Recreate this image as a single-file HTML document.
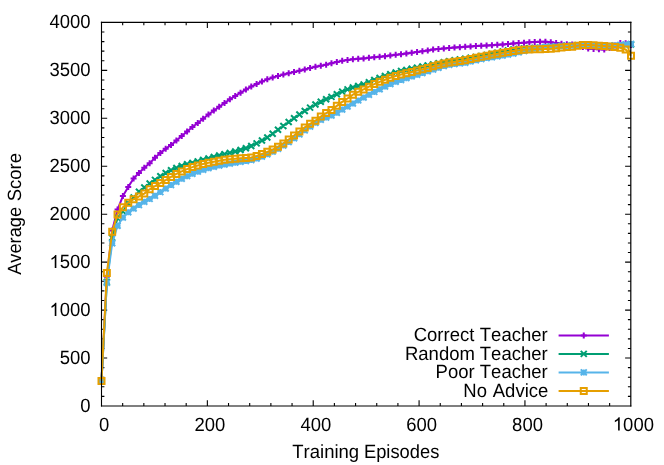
<!DOCTYPE html>
<html><head><meta charset="utf-8"><title>Average Score vs Training Episodes</title>
<style>
html,body{margin:0;padding:0;background:#fff;}
body{width:664px;height:465px;overflow:hidden;font-family:"Liberation Sans",sans-serif;}
svg{display:block;will-change:transform;}
text{text-rendering:geometricPrecision;font-kerning:none;font-family:"Liberation Sans",sans-serif;font-size:18.5px;fill:#000;}
.ln{fill:none;stroke-width:2px;stroke-linejoin:round;stroke-linecap:butt;}
.mk{fill:none;stroke-width:2px;stroke-linecap:butt;stroke-linejoin:miter;}
.ax{stroke:#000;stroke-width:1.1px;fill:none;}
</style></head><body>
<svg width="664" height="465" viewBox="0 0 664 465">
<rect x="0" y="0" width="664" height="465" fill="#ffffff"/>

<path class="ax" d="M101.5 396.38h2.9M630.8 396.38h-2.9M101.5 386.79h2.9M630.8 386.79h-2.9M101.5 377.2h2.9M630.8 377.2h-2.9M101.5 367.61h2.9M630.8 367.61h-2.9M101.5 358.02h5.7M630.8 358.02h-5.7M101.5 348.43h2.9M630.8 348.43h-2.9M101.5 338.85h2.9M630.8 338.85h-2.9M101.5 329.26h2.9M630.8 329.26h-2.9M101.5 319.67h2.9M630.8 319.67h-2.9M101.5 310.08h5.7M630.8 310.08h-5.7M101.5 300.49h2.9M630.8 300.49h-2.9M101.5 290.9h2.9M630.8 290.9h-2.9M101.5 281.31h2.9M630.8 281.31h-2.9M101.5 271.72h2.9M630.8 271.72h-2.9M101.5 262.13h5.7M630.8 262.13h-5.7M101.5 252.54h2.9M630.8 252.54h-2.9M101.5 242.95h2.9M630.8 242.95h-2.9M101.5 233.36h2.9M630.8 233.36h-2.9M101.5 223.77h2.9M630.8 223.77h-2.9M101.5 214.19h5.7M630.8 214.19h-5.7M101.5 204.6h2.9M630.8 204.6h-2.9M101.5 195.01h2.9M630.8 195.01h-2.9M101.5 185.42h2.9M630.8 185.42h-2.9M101.5 175.83h2.9M630.8 175.83h-2.9M101.5 166.24h5.7M630.8 166.24h-5.7M101.5 156.65h2.9M630.8 156.65h-2.9M101.5 147.06h2.9M630.8 147.06h-2.9M101.5 137.47h2.9M630.8 137.47h-2.9M101.5 127.88h2.9M630.8 127.88h-2.9M101.5 118.29h5.7M630.8 118.29h-5.7M101.5 108.7h2.9M630.8 108.7h-2.9M101.5 99.11h2.9M630.8 99.11h-2.9M101.5 89.52h2.9M630.8 89.52h-2.9M101.5 79.94h2.9M630.8 79.94h-2.9M101.5 70.35h5.7M630.8 70.35h-5.7M101.5 60.76h2.9M630.8 60.76h-2.9M101.5 51.17h2.9M630.8 51.17h-2.9M101.5 41.58h2.9M630.8 41.58h-2.9M101.5 31.99h2.9M630.8 31.99h-2.9M122.67 405.97v-2.9M122.67 22.4v2.9M143.84 405.97v-2.9M143.84 22.4v2.9M165.02 405.97v-2.9M165.02 22.4v2.9M186.19 405.97v-2.9M186.19 22.4v2.9M207.36 405.97v-5.7M207.36 22.4v5.7M228.53 405.97v-2.9M228.53 22.4v2.9M249.7 405.97v-2.9M249.7 22.4v2.9M270.88 405.97v-2.9M270.88 22.4v2.9M292.05 405.97v-2.9M292.05 22.4v2.9M313.22 405.97v-5.7M313.22 22.4v5.7M334.39 405.97v-2.9M334.39 22.4v2.9M355.56 405.97v-2.9M355.56 22.4v2.9M376.74 405.97v-2.9M376.74 22.4v2.9M397.91 405.97v-2.9M397.91 22.4v2.9M419.08 405.97v-5.7M419.08 22.4v5.7M440.25 405.97v-2.9M440.25 22.4v2.9M461.42 405.97v-2.9M461.42 22.4v2.9M482.6 405.97v-2.9M482.6 22.4v2.9M503.77 405.97v-2.9M503.77 22.4v2.9M524.94 405.97v-5.7M524.94 22.4v5.7M546.11 405.97v-2.9M546.11 22.4v2.9M567.28 405.97v-2.9M567.28 22.4v2.9M588.46 405.97v-2.9M588.46 22.4v2.9M609.63 405.97v-2.9M609.63 22.4v2.9"/>
<g stroke="#9400d3">
<path class="ln" d="M558.6 335.4H608.9"/>
<path class="mk" d="M580.75 335.4h6M583.75 332.4v6"/>
<polyline class="ln" points="101.5,381.05 106.85,276.83 112.2,230.52 117.55,209.53 122.89,196.01 128.24,186.9 133.59,178.56 138.94,172.9 144.29,167.82 149.64,163.32 154.98,157.71 160.33,152.9 165.68,148.86 171.03,144.93 176.38,140.6 181.73,136.03 187.08,131.44 192.42,127.06 197.77,122.94 203.12,118.74 208.47,114.56 213.82,110.58 219.17,106.84 224.52,102.98 229.86,99.33 235.21,95.96 240.56,92.75 245.91,89.59 251.26,86.6 256.61,83.99 261.95,81.55 267.3,79.35 272.65,77.48 278,75.97 283.35,74.6 288.7,73.28 294.05,72.05 299.39,70.8 304.74,69.42 310.09,67.98 315.44,66.75 320.79,65.74 326.14,64.66 331.48,63.2 336.83,61.92 342.18,60.87 347.53,59.95 352.88,59.33 358.23,58.87 363.58,58.4 368.92,57.86 374.27,57.3 379.62,56.75 384.97,56.21 390.32,55.58 395.67,54.87 401.02,54.15 406.36,53.42 411.71,52.7 417.06,52.09 422.41,51.26 427.76,50.41 433.11,49.57 438.45,48.91 443.8,48.41 449.15,47.98 454.5,47.55 459.85,47.15 465.2,46.83 470.55,46.41 475.89,46.05 481.24,45.74 486.59,45.46 491.94,45.17 497.29,44.86 502.64,44.43 507.98,43.94 513.33,43.4 518.68,42.96 524.03,42.69 529.38,42.32 534.73,41.97 540.08,41.7 545.42,41.7 550.77,42.34 556.12,43.03 561.47,43.78 566.82,44.21 572.17,44.54 577.52,45.52 582.86,46.97 588.21,48.45 593.56,49.11 598.91,49.32 604.26,49.42 609.61,47.99 614.95,45.59 620.3,43.12 625.65,43.15 631,45.01"/>
<path class="mk" d="M98.5 381.05h6M101.5 378.05v6M103.85 276.83h6M106.85 273.83v6M109.2 230.52h6M112.2 227.52v6M114.55 209.53h6M117.55 206.53v6M119.89 196.01h6M122.89 193.01v6M125.24 186.9h6M128.24 183.9v6M130.59 178.56h6M133.59 175.56v6M135.94 172.9h6M138.94 169.9v6M141.29 167.82h6M144.29 164.82v6M146.64 163.32h6M149.64 160.32v6M151.98 157.71h6M154.98 154.71v6M157.33 152.9h6M160.33 149.9v6M162.68 148.86h6M165.68 145.86v6M168.03 144.93h6M171.03 141.93v6M173.38 140.6h6M176.38 137.6v6M178.73 136.03h6M181.73 133.03v6M184.08 131.44h6M187.08 128.44v6M189.42 127.06h6M192.42 124.06v6M194.77 122.94h6M197.77 119.94v6M200.12 118.74h6M203.12 115.74v6M205.47 114.56h6M208.47 111.56v6M210.82 110.58h6M213.82 107.58v6M216.17 106.84h6M219.17 103.84v6M221.52 102.98h6M224.52 99.98v6M226.86 99.33h6M229.86 96.33v6M232.21 95.96h6M235.21 92.96v6M237.56 92.75h6M240.56 89.75v6M242.91 89.59h6M245.91 86.59v6M248.26 86.6h6M251.26 83.6v6M253.61 83.99h6M256.61 80.99v6M258.95 81.55h6M261.95 78.55v6M264.3 79.35h6M267.3 76.35v6M269.65 77.48h6M272.65 74.48v6M275 75.97h6M278 72.97v6M280.35 74.6h6M283.35 71.6v6M285.7 73.28h6M288.7 70.28v6M291.05 72.05h6M294.05 69.05v6M296.39 70.8h6M299.39 67.8v6M301.74 69.42h6M304.74 66.42v6M307.09 67.98h6M310.09 64.98v6M312.44 66.75h6M315.44 63.75v6M317.79 65.74h6M320.79 62.74v6M323.14 64.66h6M326.14 61.66v6M328.48 63.2h6M331.48 60.2v6M333.83 61.92h6M336.83 58.92v6M339.18 60.87h6M342.18 57.87v6M344.53 59.95h6M347.53 56.95v6M349.88 59.33h6M352.88 56.33v6M355.23 58.87h6M358.23 55.87v6M360.58 58.4h6M363.58 55.4v6M365.92 57.86h6M368.92 54.86v6M371.27 57.3h6M374.27 54.3v6M376.62 56.75h6M379.62 53.75v6M381.97 56.21h6M384.97 53.21v6M387.32 55.58h6M390.32 52.58v6M392.67 54.87h6M395.67 51.87v6M398.02 54.15h6M401.02 51.15v6M403.36 53.42h6M406.36 50.42v6M408.71 52.7h6M411.71 49.7v6M414.06 52.09h6M417.06 49.09v6M419.41 51.26h6M422.41 48.26v6M424.76 50.41h6M427.76 47.41v6M430.11 49.57h6M433.11 46.57v6M435.45 48.91h6M438.45 45.91v6M440.8 48.41h6M443.8 45.41v6M446.15 47.98h6M449.15 44.98v6M451.5 47.55h6M454.5 44.55v6M456.85 47.15h6M459.85 44.15v6M462.2 46.83h6M465.2 43.83v6M467.55 46.41h6M470.55 43.41v6M472.89 46.05h6M475.89 43.05v6M478.24 45.74h6M481.24 42.74v6M483.59 45.46h6M486.59 42.46v6M488.94 45.17h6M491.94 42.17v6M494.29 44.86h6M497.29 41.86v6M499.64 44.43h6M502.64 41.43v6M504.98 43.94h6M507.98 40.94v6M510.33 43.4h6M513.33 40.4v6M515.68 42.96h6M518.68 39.96v6M521.03 42.69h6M524.03 39.69v6M526.38 42.32h6M529.38 39.32v6M531.73 41.97h6M534.73 38.97v6M537.08 41.7h6M540.08 38.7v6M542.42 41.7h6M545.42 38.7v6M547.77 42.34h6M550.77 39.34v6M553.12 43.03h6M556.12 40.03v6M558.47 43.78h6M561.47 40.78v6M563.82 44.21h6M566.82 41.21v6M569.17 44.54h6M572.17 41.54v6M574.52 45.52h6M577.52 42.52v6M579.86 46.97h6M582.86 43.97v6M585.21 48.45h6M588.21 45.45v6M590.56 49.11h6M593.56 46.11v6M595.91 49.32h6M598.91 46.32v6M601.26 49.42h6M604.26 46.42v6M606.61 47.99h6M609.61 44.99v6M611.95 45.59h6M614.95 42.59v6M617.3 43.12h6M620.3 40.12v6M622.65 43.15h6M625.65 40.15v6M628 45.01h6M631 42.01v6"/>
</g>
<g stroke="#009e73">
<path class="ln" d="M558.6 353.9H608.9"/>
<path class="mk" d="M580.75 350.9l6 6M580.75 356.9l6 -6"/>
<polyline class="ln" points="101.5,381.05 106.85,281.91 112.2,237.71 117.55,218.06 122.89,211.35 128.24,203.22 133.59,197.48 138.94,191.73 144.29,187.56 149.64,183.5 154.98,179.9 160.33,176.26 165.68,173 171.03,170.32 176.38,167.93 181.73,165.95 187.08,164.32 192.42,162.85 197.77,161.36 203.12,159.89 208.47,158.46 213.82,157 219.17,155.54 224.52,154.13 229.86,152.85 235.21,151.53 240.56,150.01 245.91,148.19 251.26,146.01 256.61,143.39 261.95,140.51 267.3,137.44 272.65,133.75 278,129.81 283.35,125.98 288.7,122.08 294.05,118.23 299.39,114.54 304.74,110.94 310.09,107.61 315.44,104.57 320.79,101.74 326.14,99.19 331.48,96.85 336.83,94.18 342.18,91.65 347.53,89.4 352.88,87.51 358.23,85.96 363.58,84.52 368.92,82.28 374.27,79.98 379.62,77.89 384.97,75.96 390.32,74.15 395.67,72.46 401.02,71.07 406.36,69.92 411.71,68.81 417.06,67.66 422.41,66.46 427.76,65.39 433.11,64.38 438.45,63.32 443.8,62.23 449.15,61.16 454.5,60.25 459.85,59.45 465.2,58.64 470.55,57.77 475.89,56.85 481.24,55.95 486.59,54.97 491.94,53.91 497.29,52.68 502.64,51.46 507.98,50.36 513.33,49.48 518.68,48.87 524.03,48.5 529.38,48.21 534.73,47.94 540.08,47.65 545.42,47.28 550.77,46.81 556.12,46.43 561.47,46.05 566.82,45.72 572.17,45.46 577.52,45.33 582.86,45.38 588.21,45.58 593.56,45.84 598.91,46.05 604.26,46.13 609.61,46.04 614.95,45.82 620.3,45.49 625.65,45.05 631,44.53"/>
<path class="mk" d="M98.5 378.05l6 6M98.5 384.05l6 -6M103.85 278.91l6 6M103.85 284.91l6 -6M109.2 234.71l6 6M109.2 240.71l6 -6M114.55 215.06l6 6M114.55 221.06l6 -6M119.89 208.35l6 6M119.89 214.35l6 -6M125.24 200.22l6 6M125.24 206.22l6 -6M130.59 194.48l6 6M130.59 200.48l6 -6M135.94 188.73l6 6M135.94 194.73l6 -6M141.29 184.56l6 6M141.29 190.56l6 -6M146.64 180.5l6 6M146.64 186.5l6 -6M151.98 176.9l6 6M151.98 182.9l6 -6M157.33 173.26l6 6M157.33 179.26l6 -6M162.68 170l6 6M162.68 176l6 -6M168.03 167.32l6 6M168.03 173.32l6 -6M173.38 164.93l6 6M173.38 170.93l6 -6M178.73 162.95l6 6M178.73 168.95l6 -6M184.08 161.32l6 6M184.08 167.32l6 -6M189.42 159.85l6 6M189.42 165.85l6 -6M194.77 158.36l6 6M194.77 164.36l6 -6M200.12 156.89l6 6M200.12 162.89l6 -6M205.47 155.46l6 6M205.47 161.46l6 -6M210.82 154l6 6M210.82 160l6 -6M216.17 152.54l6 6M216.17 158.54l6 -6M221.52 151.13l6 6M221.52 157.13l6 -6M226.86 149.85l6 6M226.86 155.85l6 -6M232.21 148.53l6 6M232.21 154.53l6 -6M237.56 147.01l6 6M237.56 153.01l6 -6M242.91 145.19l6 6M242.91 151.19l6 -6M248.26 143.01l6 6M248.26 149.01l6 -6M253.61 140.39l6 6M253.61 146.39l6 -6M258.95 137.51l6 6M258.95 143.51l6 -6M264.3 134.44l6 6M264.3 140.44l6 -6M269.65 130.75l6 6M269.65 136.75l6 -6M275 126.81l6 6M275 132.81l6 -6M280.35 122.98l6 6M280.35 128.98l6 -6M285.7 119.08l6 6M285.7 125.08l6 -6M291.05 115.23l6 6M291.05 121.23l6 -6M296.39 111.54l6 6M296.39 117.54l6 -6M301.74 107.94l6 6M301.74 113.94l6 -6M307.09 104.61l6 6M307.09 110.61l6 -6M312.44 101.57l6 6M312.44 107.57l6 -6M317.79 98.74l6 6M317.79 104.74l6 -6M323.14 96.19l6 6M323.14 102.19l6 -6M328.48 93.85l6 6M328.48 99.85l6 -6M333.83 91.18l6 6M333.83 97.18l6 -6M339.18 88.65l6 6M339.18 94.65l6 -6M344.53 86.4l6 6M344.53 92.4l6 -6M349.88 84.51l6 6M349.88 90.51l6 -6M355.23 82.96l6 6M355.23 88.96l6 -6M360.58 81.52l6 6M360.58 87.52l6 -6M365.92 79.28l6 6M365.92 85.28l6 -6M371.27 76.98l6 6M371.27 82.98l6 -6M376.62 74.89l6 6M376.62 80.89l6 -6M381.97 72.96l6 6M381.97 78.96l6 -6M387.32 71.15l6 6M387.32 77.15l6 -6M392.67 69.46l6 6M392.67 75.46l6 -6M398.02 68.07l6 6M398.02 74.07l6 -6M403.36 66.92l6 6M403.36 72.92l6 -6M408.71 65.81l6 6M408.71 71.81l6 -6M414.06 64.66l6 6M414.06 70.66l6 -6M419.41 63.46l6 6M419.41 69.46l6 -6M424.76 62.39l6 6M424.76 68.39l6 -6M430.11 61.38l6 6M430.11 67.38l6 -6M435.45 60.32l6 6M435.45 66.32l6 -6M440.8 59.23l6 6M440.8 65.23l6 -6M446.15 58.16l6 6M446.15 64.16l6 -6M451.5 57.25l6 6M451.5 63.25l6 -6M456.85 56.45l6 6M456.85 62.45l6 -6M462.2 55.64l6 6M462.2 61.64l6 -6M467.55 54.77l6 6M467.55 60.77l6 -6M472.89 53.85l6 6M472.89 59.85l6 -6M478.24 52.95l6 6M478.24 58.95l6 -6M483.59 51.97l6 6M483.59 57.97l6 -6M488.94 50.91l6 6M488.94 56.91l6 -6M494.29 49.68l6 6M494.29 55.68l6 -6M499.64 48.46l6 6M499.64 54.46l6 -6M504.98 47.36l6 6M504.98 53.36l6 -6M510.33 46.48l6 6M510.33 52.48l6 -6M515.68 45.87l6 6M515.68 51.87l6 -6M521.03 45.5l6 6M521.03 51.5l6 -6M526.38 45.21l6 6M526.38 51.21l6 -6M531.73 44.94l6 6M531.73 50.94l6 -6M537.08 44.65l6 6M537.08 50.65l6 -6M542.42 44.28l6 6M542.42 50.28l6 -6M547.77 43.81l6 6M547.77 49.81l6 -6M553.12 43.43l6 6M553.12 49.43l6 -6M558.47 43.05l6 6M558.47 49.05l6 -6M563.82 42.72l6 6M563.82 48.72l6 -6M569.17 42.46l6 6M569.17 48.46l6 -6M574.52 42.33l6 6M574.52 48.33l6 -6M579.86 42.38l6 6M579.86 48.38l6 -6M585.21 42.58l6 6M585.21 48.58l6 -6M590.56 42.84l6 6M590.56 48.84l6 -6M595.91 43.05l6 6M595.91 49.05l6 -6M601.26 43.13l6 6M601.26 49.13l6 -6M606.61 43.04l6 6M606.61 49.04l6 -6M611.95 42.82l6 6M611.95 48.82l6 -6M617.3 42.49l6 6M617.3 48.49l6 -6M622.65 42.05l6 6M622.65 48.05l6 -6M628 41.53l6 6M628 47.53l6 -6"/>
</g>
<g stroke="#56b4e9">
<path class="ln" d="M558.6 372.4H608.9"/>
<path class="mk" d="M580.75 372.4h6M583.75 369.4v6M580.75 369.4l6 6M580.75 375.4l6 -6"/>
<polyline class="ln" points="101.5,381.05 106.85,282.87 112.2,243.27 117.55,225.73 122.89,217.58 128.24,212.21 133.59,208.57 138.94,204.93 144.29,201.76 149.64,198.9 154.98,195.83 160.33,192.12 165.68,188.49 171.03,185.01 176.38,181.75 181.73,178.83 187.08,176.16 192.42,173.75 197.77,171.65 203.12,169.75 208.47,168.13 213.82,166.76 219.17,165.56 224.52,164.46 229.86,163.46 235.21,162.65 240.56,161.83 245.91,161.07 251.26,160.12 256.61,158.51 261.95,156.45 267.3,154.2 272.65,151.64 278,148.76 283.35,145.58 288.7,141.97 294.05,138.19 299.39,134.35 304.74,130.37 310.09,126.49 315.44,122.87 320.79,119.78 326.14,117.42 331.48,115.54 336.83,112.68 342.18,109.58 347.53,106.53 352.88,103.42 358.23,100.38 363.58,97.54 368.92,94.67 374.27,91.9 379.62,89.24 384.97,86.48 390.32,83.93 395.67,81.81 401.02,79.93 406.36,78.13 411.71,76.39 417.06,74.67 422.41,72.92 427.76,71.2 433.11,69.54 438.45,67.8 443.8,66.03 449.15,64.8 454.5,64.03 459.85,63.34 465.2,62.67 470.55,61.39 475.89,60.2 481.24,59.1 486.59,58.12 491.94,57.24 497.29,56.37 502.64,55.49 507.98,54.55 513.33,53.53 518.68,52.36 524.03,51.04 529.38,49.77 534.73,48.54 540.08,47.65 545.42,46.99 550.77,46.69 556.12,46.48 561.47,46.24 566.82,46 572.17,45.7 577.52,45.49 582.86,45.53 588.21,45.65 593.56,45.79 598.91,45.91 604.26,45.97 609.61,45.82 614.95,45.44 620.3,45.02 625.65,44.57 631,44.05"/>
<path class="mk" d="M98.5 381.05h6M101.5 378.05v6M98.5 378.05l6 6M98.5 384.05l6 -6M103.85 282.87h6M106.85 279.87v6M103.85 279.87l6 6M103.85 285.87l6 -6M109.2 243.27h6M112.2 240.27v6M109.2 240.27l6 6M109.2 246.27l6 -6M114.55 225.73h6M117.55 222.73v6M114.55 222.73l6 6M114.55 228.73l6 -6M119.89 217.58h6M122.89 214.58v6M119.89 214.58l6 6M119.89 220.58l6 -6M125.24 212.21h6M128.24 209.21v6M125.24 209.21l6 6M125.24 215.21l6 -6M130.59 208.57h6M133.59 205.57v6M130.59 205.57l6 6M130.59 211.57l6 -6M135.94 204.93h6M138.94 201.93v6M135.94 201.93l6 6M135.94 207.93l6 -6M141.29 201.76h6M144.29 198.76v6M141.29 198.76l6 6M141.29 204.76l6 -6M146.64 198.9h6M149.64 195.9v6M146.64 195.9l6 6M146.64 201.9l6 -6M151.98 195.83h6M154.98 192.83v6M151.98 192.83l6 6M151.98 198.83l6 -6M157.33 192.12h6M160.33 189.12v6M157.33 189.12l6 6M157.33 195.12l6 -6M162.68 188.49h6M165.68 185.49v6M162.68 185.49l6 6M162.68 191.49l6 -6M168.03 185.01h6M171.03 182.01v6M168.03 182.01l6 6M168.03 188.01l6 -6M173.38 181.75h6M176.38 178.75v6M173.38 178.75l6 6M173.38 184.75l6 -6M178.73 178.83h6M181.73 175.83v6M178.73 175.83l6 6M178.73 181.83l6 -6M184.08 176.16h6M187.08 173.16v6M184.08 173.16l6 6M184.08 179.16l6 -6M189.42 173.75h6M192.42 170.75v6M189.42 170.75l6 6M189.42 176.75l6 -6M194.77 171.65h6M197.77 168.65v6M194.77 168.65l6 6M194.77 174.65l6 -6M200.12 169.75h6M203.12 166.75v6M200.12 166.75l6 6M200.12 172.75l6 -6M205.47 168.13h6M208.47 165.13v6M205.47 165.13l6 6M205.47 171.13l6 -6M210.82 166.76h6M213.82 163.76v6M210.82 163.76l6 6M210.82 169.76l6 -6M216.17 165.56h6M219.17 162.56v6M216.17 162.56l6 6M216.17 168.56l6 -6M221.52 164.46h6M224.52 161.46v6M221.52 161.46l6 6M221.52 167.46l6 -6M226.86 163.46h6M229.86 160.46v6M226.86 160.46l6 6M226.86 166.46l6 -6M232.21 162.65h6M235.21 159.65v6M232.21 159.65l6 6M232.21 165.65l6 -6M237.56 161.83h6M240.56 158.83v6M237.56 158.83l6 6M237.56 164.83l6 -6M242.91 161.07h6M245.91 158.07v6M242.91 158.07l6 6M242.91 164.07l6 -6M248.26 160.12h6M251.26 157.12v6M248.26 157.12l6 6M248.26 163.12l6 -6M253.61 158.51h6M256.61 155.51v6M253.61 155.51l6 6M253.61 161.51l6 -6M258.95 156.45h6M261.95 153.45v6M258.95 153.45l6 6M258.95 159.45l6 -6M264.3 154.2h6M267.3 151.2v6M264.3 151.2l6 6M264.3 157.2l6 -6M269.65 151.64h6M272.65 148.64v6M269.65 148.64l6 6M269.65 154.64l6 -6M275 148.76h6M278 145.76v6M275 145.76l6 6M275 151.76l6 -6M280.35 145.58h6M283.35 142.58v6M280.35 142.58l6 6M280.35 148.58l6 -6M285.7 141.97h6M288.7 138.97v6M285.7 138.97l6 6M285.7 144.97l6 -6M291.05 138.19h6M294.05 135.19v6M291.05 135.19l6 6M291.05 141.19l6 -6M296.39 134.35h6M299.39 131.35v6M296.39 131.35l6 6M296.39 137.35l6 -6M301.74 130.37h6M304.74 127.37v6M301.74 127.37l6 6M301.74 133.37l6 -6M307.09 126.49h6M310.09 123.49v6M307.09 123.49l6 6M307.09 129.49l6 -6M312.44 122.87h6M315.44 119.87v6M312.44 119.87l6 6M312.44 125.87l6 -6M317.79 119.78h6M320.79 116.78v6M317.79 116.78l6 6M317.79 122.78l6 -6M323.14 117.42h6M326.14 114.42v6M323.14 114.42l6 6M323.14 120.42l6 -6M328.48 115.54h6M331.48 112.54v6M328.48 112.54l6 6M328.48 118.54l6 -6M333.83 112.68h6M336.83 109.68v6M333.83 109.68l6 6M333.83 115.68l6 -6M339.18 109.58h6M342.18 106.58v6M339.18 106.58l6 6M339.18 112.58l6 -6M344.53 106.53h6M347.53 103.53v6M344.53 103.53l6 6M344.53 109.53l6 -6M349.88 103.42h6M352.88 100.42v6M349.88 100.42l6 6M349.88 106.42l6 -6M355.23 100.38h6M358.23 97.38v6M355.23 97.38l6 6M355.23 103.38l6 -6M360.58 97.54h6M363.58 94.54v6M360.58 94.54l6 6M360.58 100.54l6 -6M365.92 94.67h6M368.92 91.67v6M365.92 91.67l6 6M365.92 97.67l6 -6M371.27 91.9h6M374.27 88.9v6M371.27 88.9l6 6M371.27 94.9l6 -6M376.62 89.24h6M379.62 86.24v6M376.62 86.24l6 6M376.62 92.24l6 -6M381.97 86.48h6M384.97 83.48v6M381.97 83.48l6 6M381.97 89.48l6 -6M387.32 83.93h6M390.32 80.93v6M387.32 80.93l6 6M387.32 86.93l6 -6M392.67 81.81h6M395.67 78.81v6M392.67 78.81l6 6M392.67 84.81l6 -6M398.02 79.93h6M401.02 76.93v6M398.02 76.93l6 6M398.02 82.93l6 -6M403.36 78.13h6M406.36 75.13v6M403.36 75.13l6 6M403.36 81.13l6 -6M408.71 76.39h6M411.71 73.39v6M408.71 73.39l6 6M408.71 79.39l6 -6M414.06 74.67h6M417.06 71.67v6M414.06 71.67l6 6M414.06 77.67l6 -6M419.41 72.92h6M422.41 69.92v6M419.41 69.92l6 6M419.41 75.92l6 -6M424.76 71.2h6M427.76 68.2v6M424.76 68.2l6 6M424.76 74.2l6 -6M430.11 69.54h6M433.11 66.54v6M430.11 66.54l6 6M430.11 72.54l6 -6M435.45 67.8h6M438.45 64.8v6M435.45 64.8l6 6M435.45 70.8l6 -6M440.8 66.03h6M443.8 63.03v6M440.8 63.03l6 6M440.8 69.03l6 -6M446.15 64.8h6M449.15 61.8v6M446.15 61.8l6 6M446.15 67.8l6 -6M451.5 64.03h6M454.5 61.03v6M451.5 61.03l6 6M451.5 67.03l6 -6M456.85 63.34h6M459.85 60.34v6M456.85 60.34l6 6M456.85 66.34l6 -6M462.2 62.67h6M465.2 59.67v6M462.2 59.67l6 6M462.2 65.67l6 -6M467.55 61.39h6M470.55 58.39v6M467.55 58.39l6 6M467.55 64.39l6 -6M472.89 60.2h6M475.89 57.2v6M472.89 57.2l6 6M472.89 63.2l6 -6M478.24 59.1h6M481.24 56.1v6M478.24 56.1l6 6M478.24 62.1l6 -6M483.59 58.12h6M486.59 55.12v6M483.59 55.12l6 6M483.59 61.12l6 -6M488.94 57.24h6M491.94 54.24v6M488.94 54.24l6 6M488.94 60.24l6 -6M494.29 56.37h6M497.29 53.37v6M494.29 53.37l6 6M494.29 59.37l6 -6M499.64 55.49h6M502.64 52.49v6M499.64 52.49l6 6M499.64 58.49l6 -6M504.98 54.55h6M507.98 51.55v6M504.98 51.55l6 6M504.98 57.55l6 -6M510.33 53.53h6M513.33 50.53v6M510.33 50.53l6 6M510.33 56.53l6 -6M515.68 52.36h6M518.68 49.36v6M515.68 49.36l6 6M515.68 55.36l6 -6M521.03 51.04h6M524.03 48.04v6M521.03 48.04l6 6M521.03 54.04l6 -6M526.38 49.77h6M529.38 46.77v6M526.38 46.77l6 6M526.38 52.77l6 -6M531.73 48.54h6M534.73 45.54v6M531.73 45.54l6 6M531.73 51.54l6 -6M537.08 47.65h6M540.08 44.65v6M537.08 44.65l6 6M537.08 50.65l6 -6M542.42 46.99h6M545.42 43.99v6M542.42 43.99l6 6M542.42 49.99l6 -6M547.77 46.69h6M550.77 43.69v6M547.77 43.69l6 6M547.77 49.69l6 -6M553.12 46.48h6M556.12 43.48v6M553.12 43.48l6 6M553.12 49.48l6 -6M558.47 46.24h6M561.47 43.24v6M558.47 43.24l6 6M558.47 49.24l6 -6M563.82 46h6M566.82 43v6M563.82 43l6 6M563.82 49l6 -6M569.17 45.7h6M572.17 42.7v6M569.17 42.7l6 6M569.17 48.7l6 -6M574.52 45.49h6M577.52 42.49v6M574.52 42.49l6 6M574.52 48.49l6 -6M579.86 45.53h6M582.86 42.53v6M579.86 42.53l6 6M579.86 48.53l6 -6M585.21 45.65h6M588.21 42.65v6M585.21 42.65l6 6M585.21 48.65l6 -6M590.56 45.79h6M593.56 42.79v6M590.56 42.79l6 6M590.56 48.79l6 -6M595.91 45.91h6M598.91 42.91v6M595.91 42.91l6 6M595.91 48.91l6 -6M601.26 45.97h6M604.26 42.97v6M601.26 42.97l6 6M601.26 48.97l6 -6M606.61 45.82h6M609.61 42.82v6M606.61 42.82l6 6M606.61 48.82l6 -6M611.95 45.44h6M614.95 42.44v6M611.95 42.44l6 6M611.95 48.44l6 -6M617.3 45.02h6M620.3 42.02v6M617.3 42.02l6 6M617.3 48.02l6 -6M622.65 44.57h6M625.65 41.57v6M622.65 41.57l6 6M622.65 47.57l6 -6M628 44.05h6M631 41.05v6M628 41.05l6 6M628 47.05l6 -6"/>
</g>
<g stroke="#e69f00">
<path class="ln" d="M558.6 390.9H608.9"/>
<path class="mk" d="M580.75 387.9h6v6h-6z"/>
<polyline class="ln" points="101.5,381.05 106.85,273.09 112.2,231.67 117.55,214.42 122.89,207.23 128.24,202.72 133.59,199.18 138.94,196.49 144.29,193.61 149.64,189.28 154.98,186.09 160.33,183.06 165.68,180.11 171.03,176.95 176.38,173.96 181.73,171.39 187.08,169.11 192.42,167.11 197.77,165.43 203.12,163.98 208.47,162.77 213.82,161.67 219.17,160.68 224.52,159.81 229.86,159.14 235.21,158.76 240.56,158.32 245.91,157.92 251.26,157.48 256.61,156.03 261.95,153.97 267.3,151.87 272.65,149.57 278,146.82 283.35,143.4 288.7,139.52 294.05,135.48 299.39,131.49 304.74,127.42 310.09,123.81 315.44,120.73 320.79,116.6 326.14,113.01 331.48,110.09 336.83,105.85 342.18,101.9 347.53,98.52 352.88,94.71 358.23,91.87 363.58,89.45 368.92,86.71 374.27,84.11 379.62,81.81 384.97,79.74 390.32,77.8 395.67,75.96 401.02,74.44 406.36,73.18 411.71,71.93 417.06,70.56 422.41,69.21 427.76,67.9 433.11,66.3 438.45,64.72 443.8,63.53 449.15,62.61 454.5,61.78 459.85,61.04 465.2,60.33 470.55,59.02 475.89,57.82 481.24,56.7 486.59,55.63 491.94,54.62 497.29,53.66 502.64,52.76 507.98,51.89 513.33,51.04 518.68,50.15 524.03,49.72 529.38,49.42 534.73,49.32 540.08,49.23 545.42,49.04 550.77,48.7 556.12,48.24 561.47,47.53 566.82,46.95 572.17,46.63 577.52,45.71 582.86,45.09 588.21,45.1 593.56,45.31 598.91,45.73 604.26,46.05 609.61,46.48 614.95,47.08 620.3,47.68 625.65,49.49 631,55.75"/>
<path class="mk" d="M98.5 378.05h6v6h-6zM103.85 270.09h6v6h-6zM109.2 228.67h6v6h-6zM114.55 211.42h6v6h-6zM119.89 204.23h6v6h-6zM125.24 199.72h6v6h-6zM130.59 196.18h6v6h-6zM135.94 193.49h6v6h-6zM141.29 190.61h6v6h-6zM146.64 186.28h6v6h-6zM151.98 183.09h6v6h-6zM157.33 180.06h6v6h-6zM162.68 177.11h6v6h-6zM168.03 173.95h6v6h-6zM173.38 170.96h6v6h-6zM178.73 168.39h6v6h-6zM184.08 166.11h6v6h-6zM189.42 164.11h6v6h-6zM194.77 162.43h6v6h-6zM200.12 160.98h6v6h-6zM205.47 159.77h6v6h-6zM210.82 158.67h6v6h-6zM216.17 157.68h6v6h-6zM221.52 156.81h6v6h-6zM226.86 156.14h6v6h-6zM232.21 155.76h6v6h-6zM237.56 155.32h6v6h-6zM242.91 154.92h6v6h-6zM248.26 154.48h6v6h-6zM253.61 153.03h6v6h-6zM258.95 150.97h6v6h-6zM264.3 148.87h6v6h-6zM269.65 146.57h6v6h-6zM275 143.82h6v6h-6zM280.35 140.4h6v6h-6zM285.7 136.52h6v6h-6zM291.05 132.48h6v6h-6zM296.39 128.49h6v6h-6zM301.74 124.42h6v6h-6zM307.09 120.81h6v6h-6zM312.44 117.73h6v6h-6zM317.79 113.6h6v6h-6zM323.14 110.01h6v6h-6zM328.48 107.09h6v6h-6zM333.83 102.85h6v6h-6zM339.18 98.9h6v6h-6zM344.53 95.52h6v6h-6zM349.88 91.71h6v6h-6zM355.23 88.87h6v6h-6zM360.58 86.45h6v6h-6zM365.92 83.71h6v6h-6zM371.27 81.11h6v6h-6zM376.62 78.81h6v6h-6zM381.97 76.74h6v6h-6zM387.32 74.8h6v6h-6zM392.67 72.96h6v6h-6zM398.02 71.44h6v6h-6zM403.36 70.18h6v6h-6zM408.71 68.93h6v6h-6zM414.06 67.56h6v6h-6zM419.41 66.21h6v6h-6zM424.76 64.9h6v6h-6zM430.11 63.3h6v6h-6zM435.45 61.72h6v6h-6zM440.8 60.53h6v6h-6zM446.15 59.61h6v6h-6zM451.5 58.78h6v6h-6zM456.85 58.04h6v6h-6zM462.2 57.33h6v6h-6zM467.55 56.02h6v6h-6zM472.89 54.82h6v6h-6zM478.24 53.7h6v6h-6zM483.59 52.63h6v6h-6zM488.94 51.62h6v6h-6zM494.29 50.66h6v6h-6zM499.64 49.76h6v6h-6zM504.98 48.89h6v6h-6zM510.33 48.04h6v6h-6zM515.68 47.15h6v6h-6zM521.03 46.72h6v6h-6zM526.38 46.42h6v6h-6zM531.73 46.32h6v6h-6zM537.08 46.23h6v6h-6zM542.42 46.04h6v6h-6zM547.77 45.7h6v6h-6zM553.12 45.24h6v6h-6zM558.47 44.53h6v6h-6zM563.82 43.95h6v6h-6zM569.17 43.63h6v6h-6zM574.52 42.71h6v6h-6zM579.86 42.09h6v6h-6zM585.21 42.1h6v6h-6zM590.56 42.31h6v6h-6zM595.91 42.73h6v6h-6zM601.26 43.05h6v6h-6zM606.61 43.48h6v6h-6zM611.95 44.08h6v6h-6zM617.3 44.68h6v6h-6zM622.65 46.49h6v6h-6zM628 52.75h6v6h-6z"/>
</g>
<text transform="translate(413.67,341.3) scale(1,1.035)">Correct</text>
<text transform="translate(479.81,341.3) scale(1,1.035)">Teacher</text>
<text transform="translate(404.94,359.8) scale(1,1.035)">Random</text>
<text transform="translate(479.81,359.8) scale(1,1.035)">Teacher</text>
<text transform="translate(435.56,378.3) scale(1,1.035)">Poor</text>
<text transform="translate(479.81,378.3) scale(1,1.035)">Teacher</text>
<text transform="translate(463.36,396.5) scale(1,1.035)">No</text>
<text transform="translate(492.78,396.5) scale(1,1.035)">Advice</text>
<path stroke="#000" fill="none" stroke-linecap="square" stroke-width="1.25" d="M101.5 22.4H630.8"/>
<path stroke="#000" fill="none" stroke-linecap="square" stroke-width="1.1" d="M101.5 22.4V405.97"/>
<path stroke="#000" fill="none" stroke-linecap="square" stroke-width="1.2" d="M630.8 22.4V405.97"/>
<path stroke="#000" fill="none" stroke-linecap="square" stroke-width="1.15" d="M101.5 405.97H630.8"/>
<text transform="translate(80.33,411.92) scale(1,1.035)">0</text>
<text transform="translate(59.76,363.97) scale(1,1.035)">500</text>
<path d="M763 0H583V1147Q518 1085 412.5 1023T223 930V1104Q374 1175 487 1276T647 1472H763Z" transform="translate(49.47,316.03) scale(0.009033,-0.008949)"/><text transform="translate(59.76,316.03) scale(1,1.035)">000</text>
<path d="M763 0H583V1147Q518 1085 412.5 1023T223 930V1104Q374 1175 487 1276T647 1472H763Z" transform="translate(49.47,268.08) scale(0.009033,-0.008949)"/><text transform="translate(59.76,268.08) scale(1,1.035)">500</text>
<text transform="translate(49.47,220.13) scale(1,1.035)">2000</text>
<text transform="translate(49.47,172.19) scale(1,1.035)">2500</text>
<text transform="translate(49.47,124.24) scale(1,1.035)">3000</text>
<text transform="translate(49.47,76.3) scale(1,1.035)">3500</text>
<text transform="translate(49.47,28.35) scale(1,1.035)">4000</text>
<text transform="translate(98.96,430.5) scale(1,1.035)">0</text>
<text transform="translate(194.53,430.5) scale(1,1.035)">200</text>
<text transform="translate(300.39,430.5) scale(1,1.035)">400</text>
<text transform="translate(406.25,430.5) scale(1,1.035)">600</text>
<text transform="translate(512.11,430.5) scale(1,1.035)">800</text>
<path d="M763 0H583V1147Q518 1085 412.5 1023T223 930V1104Q374 1175 487 1276T647 1472H763Z" transform="translate(612.82,430.5) scale(0.009033,-0.008949)"/><text transform="translate(623.11,430.5) scale(1,1.035)">000</text>
<text transform="translate(292.32,457.6) scale(1,1.035)">Training</text>
<text transform="translate(363.96,457.6) scale(0.99,1.035)">Episodes</text>
<text transform="translate(21.2,274.8) rotate(-90) scale(0.985,1.035)">Average</text>
<text transform="translate(21.2,201.37) rotate(-90) scale(1,1.035)">Score</text>
</svg></body></html>
